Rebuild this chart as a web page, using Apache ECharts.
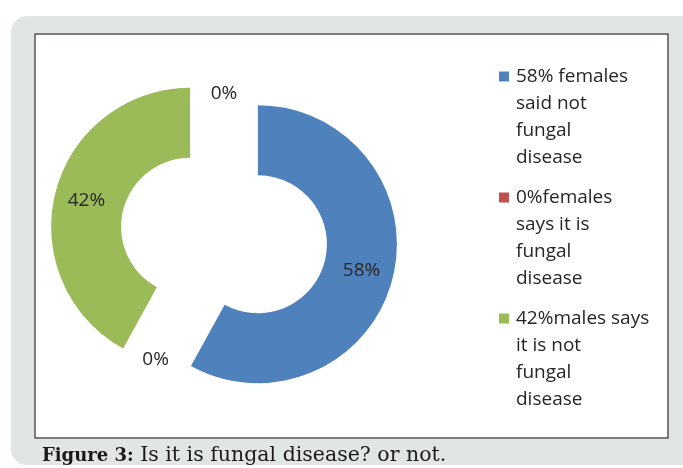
<!DOCTYPE html>
<html>
<head>
<meta charset="utf-8">
<script src="https://cdn.jsdelivr.net/npm/echarts@6/dist/echarts.min.js"></script>
<style>
html,body{margin:0;padding:0;background:#fff;}
#chart{width:683px;height:468px;}
</style>
</head>
<body>
<div id="chart"></div>
<script>
// ---- data ----
const categories = [
  '58% females said not fungal disease',
  '0%females says it is fungal disease',
  '42%males says it is not fungal disease',
  'extra'
];
const values = [58, 0, 42, 0];
const legendLabels = [
  '58% females\nsaid not\nfungal\ndisease',
  '0%females\nsays it is\nfungal\ndisease',
  '42%males says\nit is not\nfungal\ndisease'
];
const colors = ['#4F81BD', '#C0504D', '#9BBB59', '#8064A2'];
const captionBold = 'Figure 3:';
const captionText = ' Is it is fungal disease? or not.';

const chart = echarts.init(document.getElementById('chart'), null, {renderer: 'canvas'});

const labelMap = {};
categories.slice(0, 3).forEach((c, i) => { labelMap[c] = legendLabels[i]; });

const option = {
  animation: false,
  graphic: [
    {type: 'rect', z: -10, silent: true,
     shape: {x: 11, y: 16, width: 700, height: 449, r: 16},
     style: {fill: '#E2E5E6'}},
    {type: 'rect', z: -9, silent: true,
     shape: {x: 35, y: 34, width: 633, height: 404},
     style: {fill: '#ffffff', stroke: '#555555', lineWidth: 1.5}}
  ],
  title: {
    left: 37, top: 439,
    text: '{b|' + captionBold + '}{r|' + captionText + '}',
    textStyle: {
      rich: {
        b: {fontFamily: 'DejaVu Serif', fontWeight: 'bold', fontSize: 18, color: '#1a1a1a', lineHeight: 24},
        r: {fontFamily: 'DejaVu Serif', fontWeight: 'normal', fontSize: 20.5, color: '#1a1a1a', lineHeight: 24}
      }
    }
  },
  legend: {
    orient: 'vertical',
    left: 499, top: 63,
    padding: 0,
    itemWidth: 12, itemHeight: 108, itemGap: 13,
    icon: 'path://M0,8.5H10V18.5H0Z M0,0L0,0 M12,108L12,108',
    selectedMode: false,
    data: categories.slice(0, 3),
    formatter: name => labelMap[name],
    textStyle: {fontFamily: 'Open Sans', fontSize: 19, lineHeight: 27, color: '#262626'}
  },
  series: [{
    type: 'pie',
    center: [224, 235.5],
    radius: [69, 139],
    startAngle: 90,
    clockwise: true,
    selectedMode: 'multiple',
    selectedOffset: 35,
    avoidLabelOverlap: false,
    minShowLabelAngle: 0,
    silent: true,
    emphasis: {disabled: true},
    label: {
      show: true, position: 'inside',
      formatter: p => p.value + '%',
      fontFamily: 'Open Sans', fontSize: 19, color: '#262626'
    },
    labelLine: {show: false},
    data: categories.map((c, i) => ({
      name: c, value: values[i], selected: true,
      itemStyle: {color: colors[i]}
    }))
  }]
};
chart.setOption(option);
</script>
</body>
</html>
